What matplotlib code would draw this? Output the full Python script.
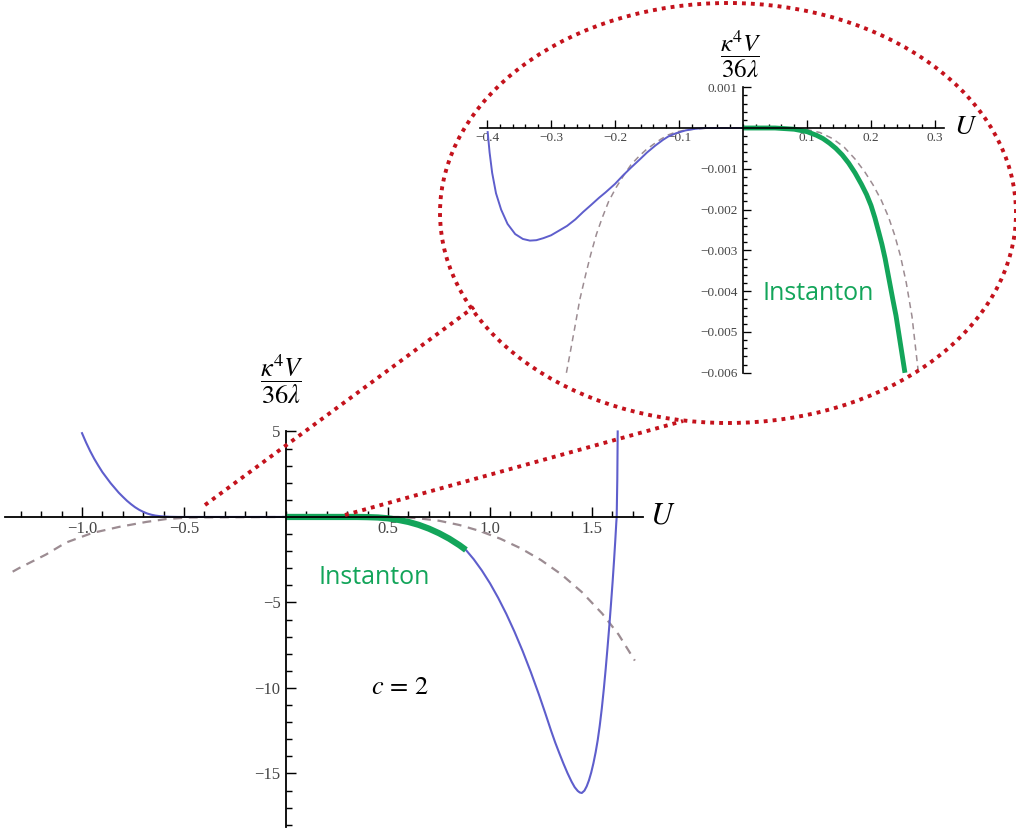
import numpy as np
import matplotlib
matplotlib.use("Agg")
import matplotlib.pyplot as plt
from matplotlib.patches import Ellipse
from matplotlib.lines import Line2D

plt.rcParams['font.family'] = ['Liberation Serif', 'DejaVu Serif']
plt.rcParams['mathtext.fontset'] = 'stix'

# ---- data ----
# main panel, c = 2
u_blue = [-1.0, -0.98, -0.96, -0.94, -0.92, -0.90, -0.88, -0.86, -0.84, -0.82, -0.80, -0.78,
          -0.76, -0.74, -0.72, -0.70, -0.68, -0.66, -0.64, -0.62, -0.60, -0.57, -0.53,
          -0.3, 0.0, 0.35, 0.45, 0.55, 0.65, 0.75, 0.85, 0.882,
          0.92, 0.96, 1.00, 1.04, 1.08, 1.12, 1.16, 1.20, 1.24, 1.27, 1.30, 1.32, 1.34,
          1.36, 1.38, 1.40, 1.415, 1.43, 1.44, 1.45, 1.463, 1.474, 1.485, 1.496, 1.507,
          1.518, 1.528, 1.538, 1.548, 1.558, 1.567, 1.576, 1.585, 1.593, 1.601, 1.608,
          1.614, 1.619, 1.621, 1.624, 1.626]
v_blue = [4.9, 4.35, 3.85, 3.4, 3.0, 2.62, 2.3, 1.98, 1.7, 1.42, 1.18, 0.95,
          0.75, 0.57, 0.42, 0.30, 0.20, 0.13, 0.08, 0.05, 0.03, 0.01, 0.0,
          0.0, 0.0, 0.0, -0.03, -0.17, -0.46, -0.95, -1.65, -1.93,
          -2.47, -3.13, -3.88, -4.73, -5.67, -6.71, -7.84, -9.07, -10.39, -11.44, -12.52,
          -13.2, -13.82, -14.42, -14.98, -15.48, -15.80, -16.02, -16.11, -16.14, -16.0,
          -15.75, -15.4, -14.95, -14.4, -13.75, -13.05, -12.2, -11.2, -10.05, -8.9, -7.65,
          -6.35, -5.1, -3.8, -2.55, -1.4, -0.35, 0.0, 2.2, 5.0]

u_dash = [-1.34, -1.31, -1.177, -1.079, -0.951, -0.818, -0.685, -0.586, -0.473, 0.0, 0.45,
          0.55, 0.65, 0.75, 0.85, 0.95, 1.05, 1.15, 1.25, 1.35, 1.45, 1.55, 1.63, 1.71]
v_dash = [-3.2, -3.0, -2.2, -1.5, -0.94, -0.58, -0.29, -0.12, -0.03, 0.0, 0.0,
          0.0, -0.08, -0.22, -0.47, -0.82, -1.27, -1.83, -2.52, -3.36, -4.39, -5.65, -6.87,
          -8.4]

u_inst = [0.0, 0.30, 0.35, 0.40, 0.45, 0.50, 0.55, 0.60, 0.65, 0.70, 0.75, 0.80, 0.85, 0.882]
v_inst = [0.0, 0.0, 0.0, -0.01, -0.03, -0.08, -0.17, -0.29, -0.46, -0.68, -0.95, -1.27,
          -1.65, -1.93]

# zoomed panel
zu_blue = [-0.399, -0.396, -0.392, -0.386, -0.378, -0.368, -0.356, -0.344, -0.333, -0.323,
           -0.312, -0.300, -0.288, -0.275, -0.262, -0.250, -0.237, -0.225, -0.215, -0.200,
           -0.188, -0.175, -0.162, -0.150, -0.137, -0.125, -0.117, -0.105, -0.090, -0.075,
           -0.060, 0.0]
zv_blue = [-0.0001, -0.0006, -0.0011, -0.0016, -0.0020, -0.00235, -0.0026, -0.00272,
           -0.00276, -0.00275, -0.0027, -0.00263, -0.00252, -0.0024, -0.00224, -0.00206,
           -0.00188, -0.00171, -0.00158, -0.00137, -0.00117, -0.00097, -0.00078, -0.0006,
           -0.00043, -0.00029, -0.00021, -0.00013, -0.00006, -0.00002, 0.0, 0.0]

zu_dash = [-0.276, -0.270, -0.263, -0.255, -0.246, -0.238, -0.229, -0.220, -0.210, -0.198,
           -0.186, -0.175, -0.163, -0.152, -0.140, -0.128, -0.117, -0.105, -0.090, -0.072,
           -0.050, 0.0, 0.06, 0.08, 0.10, 0.12, 0.14, 0.158, 0.175, 0.19, 0.203, 0.216,
           0.227, 0.237, 0.246, 0.255, 0.264, 0.274]
zv_dash = [-0.006, -0.0055, -0.0049, -0.0042, -0.0036, -0.0031, -0.0026, -0.0022, -0.0018,
           -0.00145, -0.00115, -0.0009, -0.0007, -0.00054, -0.0004, -0.00027, -0.00017,
           -0.0001, -0.00005, -0.00002, 0.0, 0.0, 0.0, -0.00001, -0.00004, -0.00011,
           -0.00026, -0.00047, -0.00076, -0.00107, -0.00139, -0.00177, -0.00217, -0.00263,
           -0.00314, -0.00379, -0.00462, -0.006]

zu_inst = [0.0, 0.05, 0.08, 0.10, 0.115, 0.125, 0.135, 0.145, 0.155, 0.165, 0.175, 0.185,
           0.193, 0.200, 0.206, 0.212, 0.217, 0.222, 0.228, 0.234, 0.239, 0.244, 0.249, 0.253]
zv_inst = [0.0, 0.0, -0.00003, -0.00009, -0.00018, -0.00026, -0.00037, -0.0005, -0.00066,
           -0.00086, -0.0011, -0.00138, -0.00163, -0.0019, -0.0022, -0.00255, -0.00285,
           -0.0032, -0.0037, -0.0042, -0.0046, -0.0051, -0.0056, -0.006]

main_xticks = [-1.0, -0.5, 0.5, 1.0, 1.5]
main_xlabels = ['\u22121.0', '\u22120.5', '0.5', '1.0', '1.5']
main_yticks = [5, -5, -10, -15]
main_ylabels = ['5', '\u22125', '\u221210', '\u221215']
zoom_xticks = [-0.4, -0.3, -0.2, -0.1, 0.1, 0.2, 0.3]
zoom_xlabels = ['\u22120.4', '\u22120.3', '\u22120.2', '\u22120.1', '0.1', '0.2', '0.3']
zoom_yticks = [0.001, -0.001, -0.002, -0.003, -0.004, -0.005, -0.006]
zoom_ylabels = ['0.001', '\u22120.001', '\u22120.002', '\u22120.003', '\u22120.004',
                '\u22120.005', '\u22120.006']

blue = '#5e5ecc'
grey = '#9c8c92'
green = '#13a55a'
red = '#c4121c'

W, H = 1016, 831
fig = plt.figure(figsize=(W / 100, H / 100), dpi=100)


def px(x, y):
    return x / W, 1 - y / H


def mathematica_axes(ax, xmin, xmax, ymin, ymax, xmaj, xlab, ymaj, ylab, xminor, yminor,
                     fs, lw, majlen, minlen):
    ax.set_xlim(xmin, xmax)
    ax.set_ylim(ymin, ymax)
    ax.patch.set_alpha(0)
    for s in ['top', 'right']:
        ax.spines[s].set_visible(False)
    ax.spines['left'].set_position(('data', 0))
    ax.spines['bottom'].set_position(('data', 0))
    for s in ['left', 'bottom']:
        ax.spines[s].set_linewidth(lw)
    ax.set_xticks(xmaj)
    ax.set_xticklabels(xlab)
    ax.set_yticks(ymaj)
    ax.set_yticklabels(ylab)
    ax.set_xticks(xminor, minor=True)
    ax.set_yticks(yminor, minor=True)
    ax.tick_params(which='both', direction='in', width=lw * 0.8, colors='black',
                   labelcolor='#444444', labelsize=fs)
    ax.tick_params(which='major', length=majlen)
    ax.tick_params(which='minor', length=minlen)
    ax.tick_params(axis='x', pad=3)
    ax.tick_params(axis='y', pad=4)


# main panel
ax = fig.add_axes([4.5 / W, 1 - 826.5 / H, 638.5 / W, 395.9 / H])
mathematica_axes(ax, -1.38, 1.75, -18.1, 5.05, main_xticks, main_xlabels, main_yticks,
                 main_ylabels, np.arange(-1.3, 1.75, 0.1), np.arange(-18, 5, 1), 12, 1.3, 7, 4)
ax.plot(u_dash, v_dash, color=grey, lw=1.6, ls=(0, (4, 3)), clip_on=False)
ax.plot(u_blue, v_blue, color=blue, lw=1.5, clip_on=False)
ax.plot(u_inst, v_inst, color=green, lw=4.5, solid_capstyle='butt', clip_on=False)
ax.text(0.43, -3.55, 'Instanton', color=green, fontsize=18, family='Open Sans',
        ha='center', va='center')
ax.text(0.56, -10.0, r'$c\,=\,2$', fontsize=19, ha='center', va='center')

# zoomed panel
az = fig.add_axes([480 / W, 1 - 372.8 / H, 464 / W, 285.6 / H])
mathematica_axes(az, -0.411, 0.314, -0.006, 0.001, zoom_xticks, zoom_xlabels, zoom_yticks,
                 zoom_ylabels, np.arange(-0.40, 0.31, 0.02), np.arange(-0.006, 0.001, 0.0002),
                 9.5, 1.2, 6, 3)
az.plot(zu_dash, zv_dash, color=grey, lw=1.1, ls=(0, (4, 3)), clip_on=False)
az.plot(zu_blue, zv_blue, color=blue, lw=1.4, clip_on=False)
az.plot(zu_inst, zv_inst, color=green, lw=3.5, solid_capstyle='butt', clip_on=False)
az.text(0.118, -0.00405, 'Instanton', color=green, fontsize=18, family='Open Sans',
        ha='center', va='center')

# axis names
fig.text(*px(282, 379), r'$\dfrac{\kappa^4 V}{36\lambda}$', fontsize=19, ha='center', va='center')
fig.text(*px(663, 516), r'$U$', fontsize=22, ha='center', va='center')
fig.text(*px(741, 54), r'$\dfrac{\kappa^4 V}{36\lambda}$', fontsize=18, ha='center', va='center')
fig.text(*px(966, 128), r'$U$', fontsize=20, ha='center', va='center')

# red dotted magnifier
ell = Ellipse(px(728, 213), 576 / W, 420 / H, transform=fig.transFigure, fill=False,
              edgecolor=red, lw=2.8, ls=(0, (1, 1.3)), zorder=10)
fig.add_artist(ell)
for (x0, y0), (x1, y1) in [((205, 505), (474, 307)), ((345, 515), (683, 421))]:
    a, b = px(x0, y0), px(x1, y1)
    fig.add_artist(Line2D([a[0], b[0]], [a[1], b[1]], transform=fig.transFigure,
                          color=red, lw=2.8, ls=(0, (1, 1.3)), zorder=10))

fig.savefig('out.png', dpi=100, facecolor='white')
